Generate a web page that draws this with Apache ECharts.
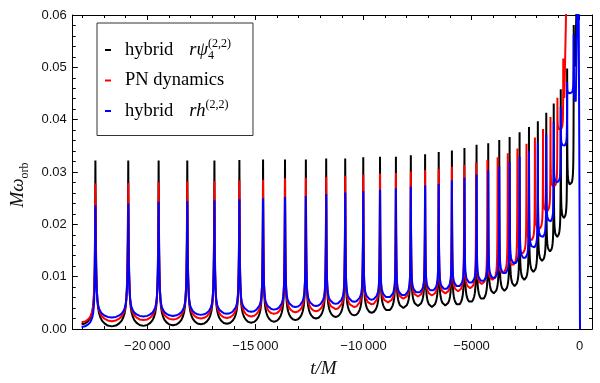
<!DOCTYPE html>
<html>
<head>
<meta charset="utf-8">
<script src="https://cdn.jsdelivr.net/npm/echarts@6/dist/echarts.min.js"></script>
<style>html,body{margin:0;padding:0;background:#fff}#c{width:600px;height:383px}</style>
</head>
<body>
<div id="c"></div>
<script>
// ---- axis ticks & labels ----
const xMajorTicks = [-20000, -15000, -10000, -5000, 0];
const xTickLabels = ['\u221220\u2009000', '\u221215\u2009000', '\u221210\u2009000', '\u22125000', '0'];
const xMinorTicks = [-23000, -22000, -21000, -19000, -18000, -17000, -16000, -14000, -13000, -12000, -11000,
                     -9000, -8000, -7000, -6000, -4000, -3000, -2000, -1000];
const yTickLabels = ['0.00', '0.01', '0.02', '0.03', '0.04', '0.05', '0.06'];

const profileF = [0, 0.25, 0.45, 0.6, 0.7, 0.78, 0.84, 0.88, 0.915, 0.945, 0.97, 0.988, 1];
const profileH = [0, 0.005, 0.018, 0.035, 0.055, 0.08, 0.115, 0.16, 0.23, 0.34, 0.52, 0.78, 1];

// ---- hybrid r psi4 (black) ----
const blackStart = [-23040, 0.0009];
const blackPeakT = [-22400, -20880, -19475, -18150, -16895, -15740, -14645, -13630, -12665, -11725, -10845,
  -10010, -9235, -8500, -7810, -7150, -6520, -5910, -5330, -4770, -4230, -3720, -3240, -2780, -2345, -1935,
  -1545, -1200, -875, -580, -275];
const blackPeakV = [0.0322, 0.0322, 0.0322, 0.0322, 0.0322, 0.0323, 0.0324, 0.0324, 0.0324, 0.0326, 0.0326,
  0.0328, 0.0329, 0.0329, 0.0332, 0.0334, 0.0338, 0.0341, 0.0346, 0.0352, 0.0355, 0.0361, 0.0367, 0.0376,
  0.0386, 0.0397, 0.0413, 0.0431, 0.0458, 0.0498, 0.0581];
const blackTroughT = [-21640, -20178, -18813, -17523, -16318, -15193, -14138, -13148, -12195, -11285, -10428,
  -9623, -8868, -8155, -7480, -6835, -6215, -5620, -5050, -4500, -3975, -3480, -3010, -2563, -2140, -1740,
  -1373, -1038, -728, -428];
const blackTroughV = [0.0005, 0.0006, 0.0007, 0.0009, 0.0010, 0.0012, 0.0014, 0.0017, 0.0020, 0.0023, 0.0026,
  0.0031, 0.0035, 0.0040, 0.0044, 0.0042, 0.0045, 0.0046, 0.0051, 0.0057, 0.0068, 0.0073, 0.0082, 0.0094,
  0.0109, 0.0130, 0.0148, 0.0176, 0.0212, 0.0275];
const blackTailT = [-160, -70];
const blackTailV = [0.050, 0.075];

// ---- PN dynamics (red) ----
const redStart = [-23040, 0.0013];
const redPeakT = [-22400, -20880, -19475, -18150, -16895, -15740, -14645, -13630, -12665, -11725, -10845,
  -10010, -9235, -8500, -7810, -7150, -6520, -5910, -5340, -4790, -4270, -3795, -3325, -2880, -2460, -2070,
  -1695, -1350, -1030, -760];
const redPeakV = [0.0278, 0.0279, 0.0281, 0.0282, 0.0283, 0.0284, 0.0285, 0.0288, 0.0289, 0.0291, 0.0293,
  0.0295, 0.0297, 0.0298, 0.0301, 0.0304, 0.0306, 0.0310, 0.0314, 0.0318, 0.0323, 0.0328, 0.0336, 0.0345,
  0.0354, 0.0366, 0.0382, 0.0405, 0.0442, 0.0517];
const redTroughT = [-21640, -20178, -18813, -17523, -16318, -15193, -14138, -13148, -12195, -11285, -10428,
  -9623, -8868, -8155, -7480, -6835, -6215, -5625, -5065, -4530, -4033, -3560, -3103, -2670, -2265, -1883,
  -1523, -1190, -895];
const redTroughV = [0.0015, 0.0017, 0.0018, 0.0020, 0.0021, 0.0024, 0.0029, 0.0032, 0.0034, 0.0038, 0.0042,
  0.0047, 0.0051, 0.0058, 0.0062, 0.0064, 0.0068, 0.0072, 0.0078, 0.0086, 0.0094, 0.0107, 0.0122, 0.0144,
  0.0169, 0.0191, 0.0225, 0.0272, 0.0381];
const redTailT = [-665, -560];
const redTailV = [0.044, 0.075];

// ---- hybrid r h (blue) ----
const blueStart = [-23040, 0.0004];
const bluePeakT = blackPeakT;
const bluePeakV = [0.0236, 0.0240, 0.0243, 0.0244, 0.0246, 0.0248, 0.0250, 0.0252, 0.0254, 0.0258, 0.0261,
  0.0263, 0.0266, 0.0269, 0.0272, 0.0274, 0.0277, 0.0284, 0.0289, 0.0295, 0.0303, 0.0310, 0.0319, 0.0329,
  0.0340, 0.0356, 0.0372, 0.0396, 0.0424, 0.0472, 0.0563];
const blueTroughT = blackTroughT;
const blueTroughV = [0.0022, 0.0024, 0.0025, 0.0027, 0.0029, 0.0033, 0.0037, 0.0042, 0.0044, 0.0048, 0.0052,
  0.0056, 0.0060, 0.0064, 0.0069, 0.0073, 0.0076, 0.0081, 0.0088, 0.0091, 0.0097, 0.0106, 0.0125, 0.0135,
  0.0155, 0.0175, 0.0205, 0.0280, 0.0350, 0.0450];
const blueTailT = [-150, -60, 0, 15];
const blueTailV = [0.0434, 0.075, 0.0175, 0.0];

function buildSeries(start, peakT, peakV, troughT, troughV, tailT, tailV) {
  const lows = [start].concat(troughT.map((t, i) => [t, troughV[i]]));
  const pts = [start.slice()];
  for (let i = 0; i < peakT.length; i++) {
    const a = lows[i];
    const b = i < troughT.length ? [troughT[i], troughV[i]] : [tailT[0], tailV[0]];
    for (let k = 1; k < profileF.length; k++) {
      pts.push([a[0] + profileF[k] * (peakT[i] - a[0]), a[1] + profileH[k] * (peakV[i] - a[1])]);
    }
    for (let k = profileF.length - 2; k >= 0; k--) {
      pts.push([peakT[i] + (1 - profileF[k]) * (b[0] - peakT[i]), b[1] + profileH[k] * (peakV[i] - b[1])]);
    }
  }
  for (let j = 1; j < tailT.length; j++) pts.push([tailT[j], tailV[j]]);
  return pts;
}

const blackData = buildSeries(blackStart, blackPeakT, blackPeakV, blackTroughT, blackTroughV, blackTailT, blackTailV);
const redData = buildSeries(redStart, redPeakT, redPeakV, redTroughT, redTroughV, redTailT, redTailV);
const blueData = buildSeries(blueStart, bluePeakT, bluePeakV, blueTroughT, blueTroughV, blueTailT, blueTailV);

const XMIN = -23450, XMAX = 570;
const serif = 'Liberation Serif';
const sans = 'Liberation Sans';
const frame = '#000';

function xAxisCfg(pos, ticks, len, labels) {
  return {
    type: 'value', min: XMIN, max: XMAX, position: pos,
    axisLine: { show: true, onZero: false, lineStyle: { color: frame, width: 1 } },
    axisTick: { show: true, inside: true, length: len, customValues: ticks, lineStyle: { color: frame, width: 1 } },
    axisLabel: labels ? {
      show: true, customValues: xMajorTicks, margin: 11, color: '#111',
      fontFamily: sans, fontSize: 13,
      formatter: v => xTickLabels[xMajorTicks.indexOf(v)]
    } : { show: false },
    splitLine: { show: false }
  };
}
function yAxisCfg(pos, labels) {
  return {
    type: 'value', min: 0, max: 0.06, interval: 0.01, position: pos,
    axisLine: { show: true, onZero: false, lineStyle: { color: frame, width: 1 } },
    axisTick: { show: true, inside: true, length: 5, lineStyle: { color: frame, width: 1 } },
    minorTick: { show: true, splitNumber: 5, length: 3, lineStyle: { color: frame, width: 1 } },
    axisLabel: labels ? {
      show: true, margin: 6, color: '#111', fontFamily: sans, fontSize: 13,
      formatter: v => yTickLabels[Math.round(v * 100)]
    } : { show: false },
    splitLine: { show: false }, minorSplitLine: { show: false }
  };
}

const xAxes = [
  Object.assign(xAxisCfg('bottom', xMajorTicks, 5, true), {
    name: 't/M', nameLocation: 'middle', nameGap: 30,
    nameTextStyle: { fontFamily: serif, fontStyle: 'italic', fontSize: 19, color: '#111', padding: [0, 18, 0, 0] }
  }),
  xAxisCfg('bottom', xMinorTicks, 3, false),
  xAxisCfg('top', xMajorTicks, 5, false),
  xAxisCfg('top', xMinorTicks, 3, false)
];
const yAxes = [
  Object.assign(yAxisCfg('left', true), {
    name: '{m|M\u03c9}{s|orb}', nameLocation: 'middle', nameGap: 33, nameRotate: 90,
    nameTextStyle: {
      color: '#111', padding: [0, 26, 0, 0],
      rich: {
        m: { fontFamily: serif, fontStyle: 'italic', fontSize: 19, lineHeight: 26, color: '#111' },
        s: { fontFamily: serif, fontSize: 12, lineHeight: 12, verticalAlign: 'bottom', color: '#111' }
      }
    }
  }),
  yAxisCfg('right', false)
];

const legendRich = {
  t: { fontFamily: serif, fontSize: 18.5, lineHeight: 24, color: '#000', padding: [0, 0, 0, 9] },
  g: { width: 16 },
  m: { fontFamily: serif, fontStyle: 'italic', fontSize: 18.5, lineHeight: 24, color: '#000' },
  sub: { fontFamily: serif, fontSize: 12, lineHeight: 12, verticalAlign: 'bottom', width: 0, color: '#000' },
  sup: { fontFamily: serif, fontSize: 12, lineHeight: 14, verticalAlign: 'top', color: '#000' }
};
const legendText = {
  'hybrid psi4': '{t|hybrid}{g| }{m|r\u03c8}{sub|4}{sup|(2,2)}',
  'PN dynamics': '{t|PN dynamics}',
  'hybrid h': '{t|hybrid}{g| }{m|rh}{sup|(2,2)}'
};

const chart = echarts.init(document.getElementById('c'), null, { renderer: 'canvas' });
chart.setOption({
  animation: false,
  backgroundColor: '#fff',
  grid: { left: 72, right: 8, top: 15, bottom: 48, containLabel: false },
  xAxis: xAxes,
  yAxis: yAxes,
  legend: {
    show: true, orient: 'vertical', left: 97, top: 23,
    icon: 'rect', itemWidth: 6, itemHeight: 2, itemGap: 9,
    padding: [15, 22, 15, 8],
    borderColor: '#333', borderWidth: 1, backgroundColor: '#fff',
    selectedMode: false,
    data: ['hybrid psi4', 'PN dynamics', 'hybrid h'],
    formatter: name => legendText[name],
    textStyle: { rich: legendRich }
  },
  series: [
    { name: 'hybrid psi4', type: 'line', data: blackData, showSymbol: false, symbol: 'none', color: '#000',
      lineStyle: { width: 2, color: '#000', join: 'bevel' }, clip: true, z: 2 },
    { name: 'PN dynamics', type: 'line', data: redData, showSymbol: false, symbol: 'none', color: '#f00',
      lineStyle: { width: 2, color: '#f00', join: 'bevel' }, clip: true, z: 3 },
    { name: 'hybrid h', type: 'line', data: blueData, showSymbol: false, symbol: 'none', color: '#00f',
      lineStyle: { width: 2, color: '#00f', join: 'bevel' }, clip: true, z: 4 }
  ]
});
</script>
</body>
</html>
